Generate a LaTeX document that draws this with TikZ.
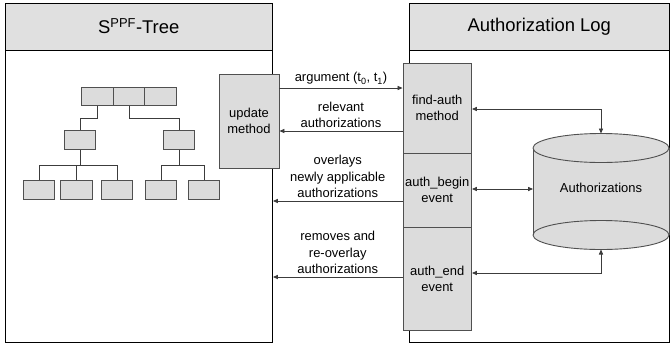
\documentclass[tikz,border=0pt]{standalone}
\usepackage{fontspec}
\setmainfont{Liberation Sans}
\usetikzlibrary{arrows.meta}
\definecolor{boxgray}{RGB}{220,220,220}
\definecolor{hdrgray}{RGB}{224,224,224}
\definecolor{boxline}{RGB}{80,80,80}
\definecolor{linegray}{RGB}{60,60,60}
\begin{document}
\begin{tikzpicture}[x=1bp,y=-1bp,
  panel/.style={draw=black, line width=0.9bp, inner sep=0pt},
  header/.style={panel, fill=hdrgray, font=\fontsize{18.5}{22}\selectfont},
  box/.style={draw=boxline, fill=boxgray, line width=0.9bp, inner sep=0pt,
    align=center, font=\fontsize{13}{16}\selectfont},
  leaf/.style={box, minimum width=31.5bp, minimum height=18.5bp},
  link/.style={draw=linegray, line width=0.8bp},
  tip/.tip={Triangle[length=5bp,width=4.2bp]},
  arrow/.style={link, -tip},
  both/.style={link, tip-tip},
  lbl/.style={align=center, inner sep=0pt, font=\fontsize{13}{16.5}\selectfont}]
\useasboundingbox (0,0) rectangle (670,344);

% left panel: the tree
\node[panel, minimum width=267.5bp, minimum height=292bp] (lpanel) at (138.75,196) {};
\node[header, minimum width=267.5bp, minimum height=47bp] (lhead) at (138.75,26.5) {S\textsuperscript{PPF}-Tree};

% right panel: the log
\node[panel, minimum width=260.5bp, minimum height=292bp] (rpanel) at (539.25,196) {};
\node[header, minimum width=260.5bp, minimum height=47bp] (rhead) at (539.25,26.5) {Authorization Log};

% tree nodes
\node[leaf] (t1) at (97.6,96.5) {};
\node[leaf] (t2) at (129,96.5) {};
\node[leaf] (t3) at (160.4,96.5) {};
\node[leaf] (m1) at (80,140) {};
\node[leaf] (m2) at (179,140) {};
\node[leaf] (b1) at (39,190) {};
\node[leaf] (b2) at (76.5,190) {};
\node[leaf] (b3) at (117,190) {};
\node[leaf] (b4) at (161,190) {};
\node[leaf] (b5) at (204,190) {};

\draw[link] (t1.south) -- ++(0,12) -| (m1.north);
\draw[link] (t2.south) -- ++(0,12) -| (m2.north);
\draw[link] (m1.south) -- ++(0,16) coordinate (j1);
\draw[link] (b1.north) -- (b1.north |- j1) -- (b3.north |- j1) -- (b3.north);
\draw[link] (b2.north) -- (b2.north |- j1);
\draw[link] (m2.south) -- ++(0,16) coordinate (j2);
\draw[link] (b4.north) -- (b4.north |- j2) -- (b5.north |- j2) -- (b5.north);

% method and event boxes
\node[box, minimum width=60bp, minimum height=93.5bp] (um) at (249,121.25) {update\\method};
\node[box, minimum width=68.5bp, minimum height=90bp] (fa) at (437.25,108) {find-auth\\method};
\node[box, minimum width=68.5bp, minimum height=74bp] (ab) at (437.25,190) {auth\_begin\\event};
\node[box, minimum width=68.5bp, minimum height=103bp] (ae) at (437.25,278.5) {auth\_end\\event};

% authorization store
\fill[boxgray] (533,148) rectangle (669,235);
\draw[boxline, line width=0.9bp, fill=boxgray] (601,235) ellipse [x radius=68, y radius=14.5];
\draw[boxline, line width=0.9bp] (533,148) -- (533,235) (669,148) -- (669,235);
\draw[boxline, line width=0.9bp, fill=boxgray] (601,148) ellipse [x radius=68, y radius=14.5];
\node[lbl] (cyl) at (601,188) {Authorizations};
\coordinate (cyltop) at (601,133.5);
\coordinate (cylbot) at (601,249.5);
\coordinate (cylleft) at (533,189);

% message rows
\coordinate (argrow) at (0,88);
\coordinate (relrow) at (0,131);
\coordinate (ovrow) at (0,201);
\coordinate (rmrow) at (0,277);
\coordinate (endrow) at (0,273);

\draw[arrow] (um.east |- argrow) -- node[lbl, above=3bp] {argument (t\textsubscript{0}, t\textsubscript{1})} (fa.west |- argrow);
\draw[arrow] (fa.west |- relrow) -- node[lbl, above=3bp] {relevant\\authorizations} (um.east |- relrow);
\draw[arrow] (ab.west |- ovrow) -- node[lbl, above=3bp] {overlays\\newly applicable\\authorizations} (lpanel.east |- ovrow);
\draw[arrow] (ae.west |- rmrow) -- node[lbl, above=3bp] {removes and\\re-overlay\\authorizations} (lpanel.east |- rmrow);

% store access
\draw[both] (fa.east |- 0,109) -| (cyltop);
\draw[both] (ab.east |- cylleft) -- (cylleft);
\draw[both] (ae.east |- endrow) -| (cylbot);
\end{tikzpicture}
\end{document}
